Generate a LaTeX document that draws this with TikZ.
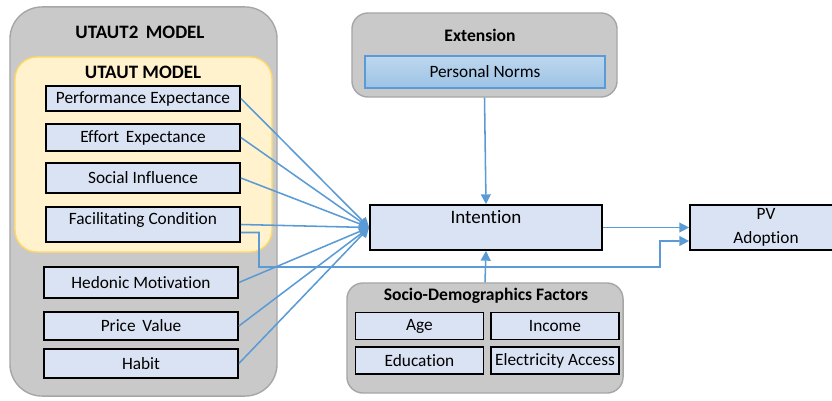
\documentclass[tikz,border=0pt]{standalone}
\usepackage{fontspec}
\setmainfont{Carlito}[Ligatures={NoCommon}]
\usepackage{tikz}
\usetikzlibrary{arrows.meta, positioning, calc}

\definecolor{groupgray}{HTML}{C9C9C9}
\definecolor{groupedge}{HTML}{A6A6A6}
\definecolor{utautfill}{HTML}{FFF2CC}
\definecolor{utautedge}{HTML}{FFD966}
\definecolor{factorfill}{HTML}{DAE3F3}
\definecolor{linkblue}{HTML}{5B9BD5}
\definecolor{normtop}{HTML}{BDD7EE}
\definecolor{normbottom}{HTML}{9DC3E6}

\begin{document}
\begin{tikzpicture}[
        x=0.025cm, y=-0.025cm,
        font=\fontsize{12.3}{14}\selectfont,
        group box/.style={draw=groupedge, line width=1pt, fill=groupgray, rounded corners=0.4cm, inner sep=0pt},
        group title/.style={font=\fontsize{12.5}{15}\selectfont\bfseries},
        model title/.style={font=\fontsize{13.5}{16}\selectfont\bfseries},
        factor node/.style={draw=black, line width=1.2pt, fill=factorfill, minimum width=4.85cm, minimum height=0.7cm, inner sep=2pt, align=center},
        socio node/.style={factor node, minimum width=3.2cm, minimum height=0.67cm},
        link/.style={draw=linkblue, line width=1.1pt, -{Triangle[length=7pt, width=7pt]}}
    ]
    \useasboundingbox (0,0) rectangle (832,400);

    % Model containers
    \node[group box, rounded corners=0.8cm, minimum width=6.675cm, minimum height=9.725cm] (utaut2) at (143.5,201.5) {};
    \node[model title] (utaut2 title) at (140,32) {UTAUT2\, MODEL};
    \node[group box, draw=utautedge, fill=utautfill, rounded corners=0.55cm, minimum width=6.425cm, minimum height=4.875cm] (utaut) at (143.5,154.5) {};
    \node[model title] (utaut title) at (143,72) {UTAUT MODEL};

    % UTAUT factors
    \node[factor node, minimum height=0.625cm] (performance) at (143,98.5) {Performance Expectance};
    \node[factor node, minimum height=0.675cm] (effort) at (143,137.5) {Effort\, Expectance};
    \node[factor node, minimum height=0.75cm] (social) at (143,178) {Social Influence};
    \node[factor node, text height=10.5pt, text depth=10.4pt] (facilitating) at (143,224.5) {Facilitating Condition};

    % UTAUT2 factors
    \node[factor node, minimum height=0.775cm] (hedonic) at (141,282.5) {Hedonic Motivation};
    \node[factor node] (price) at (141,326) {Price\, Value};
    \node[factor node, minimum height=0.725cm] (habit) at (141,363.5) {Habit};

    % Extension
    \node[group box, minimum width=6.625cm, minimum height=2.1cm] (extension) at (484.5,55) {};
    \node[group title] (extension title) at (480,35) {Extension};
    \node[draw=linkblue, line width=1pt, top color=normtop, bottom color=normbottom, minimum width=6cm, minimum height=0.8cm] (norms) at (485,72) {Personal Norms};

    % Intention and adoption
    \node[factor node, minimum width=5.8cm, inner ysep=3pt, text height=10pt, text depth=16pt, font=\fontsize{13.5}{16}\selectfont] (intention) at (486,227.5) {Intention};
    \node[factor node, minimum width=3.8cm, minimum height=1.125cm, font=\fontsize{12.3}{17}\selectfont] (adoption) at (766,227.5) {PV\\Adoption};

    % Socio-demographics
    \node[group box, minimum width=6.9cm, minimum height=2.75cm] (socio) at (485,338) {};
    \node[group title] (socio title) at (486,296) {Socio-Demographics Factors};
    \node[socio node] (age) at (419.5,326) {Age};
    \node[socio node] (income) at (555,326) {Income};
    \node[socio node] (education) at (419.5,360.5) {Education};
    \node[socio node] (electricity) at (555,360.5) {Electricity Access};

    % Factors into intention
    \draw[link] (performance.east) -- (intention.west);
    \draw[link] (effort.east) -- (intention.west);
    \draw[link] (social.east) -- (intention.west);
    \draw[link] (facilitating.east) -- (intention.west);
    \draw[link] (hedonic.east) -- (intention.west);
    \draw[link] (price.east) -- (intention.west);
    \draw[link] (habit.east) -- (intention.west);

    % Extension and socio-demographics into intention
    \draw[link] (extension.south) -- (intention.north);
    \draw[link] (socio.north) -- (intention.south);

    % Towards adoption
    \draw[link] (intention.east) -- (adoption.west);
    \draw[link] ($(facilitating.east)+(0,8)$) -| (259,267) -| (660,241) -- ($(adoption.west)+(0,13.5)$);

\end{tikzpicture}
\end{document}
